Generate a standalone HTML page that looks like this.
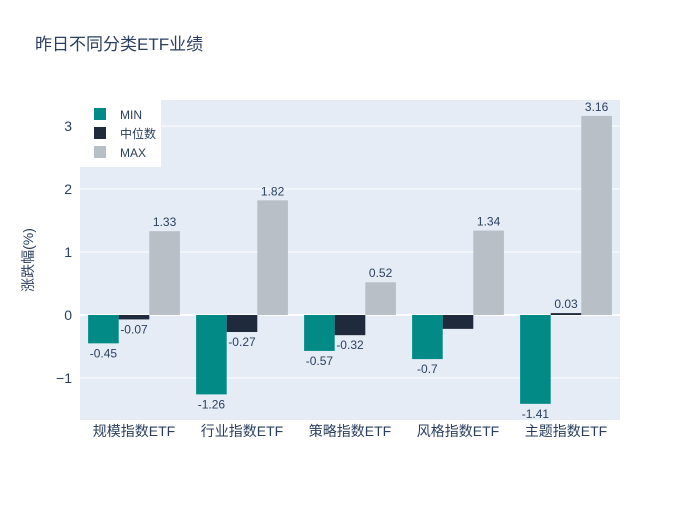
<!DOCTYPE html>
<html><head><meta charset="utf-8"><style>
body{margin:0;background:#fff}
text{font-family:"Liberation Sans","Noto Sans CJK SC",sans-serif;fill:#2a3f5f}
</style></head><body>
<svg id="c" width="700" height="500" xmlns="http://www.w3.org/2000/svg">
<rect x="0" y="0" width="700" height="500" fill="#fff"/>
<text x="35" y="50" font-size="17">昨日不同分类ETF业绩</text>
<rect x="80" y="100" width="540" height="320" fill="#e5ecf6"/>
<g id="grid"></g><g id="bars"></g><g id="labels"></g>
<text transform="translate(33,260) rotate(-90)" text-anchor="middle" font-size="14">涨跌幅(%)</text>
<g>
<rect x="80" y="100" width="81" height="67" fill="#fff"/>
<rect x="94" y="108" width="12" height="12" fill="#028a87"/>
<text x="120" y="119" font-size="12">MIN</text>
<rect x="94" y="127" width="12" height="12" fill="#1f2a3c"/>
<text x="120" y="138" font-size="12">中位数</text>
<rect x="94" y="146" width="12" height="12" fill="#b8bfc6"/>
<text x="120" y="157" font-size="12">MAX</text>
</g>
</svg>
<script>
const categories=["规模指数ETF","行业指数ETF","策略指数ETF","风格指数ETF","主题指数ETF"];
const minVals=[-0.45,-1.26,-0.57,-0.7,-1.41];
const medVals=[-0.07,-0.27,-0.32,-0.22,0.03];
const maxVals=[1.33,1.82,0.52,1.34,3.16];
const yTicks=[-1,0,1,2,3];
const yTickLabels=["−1","0","1","2","3"];
const NS="http://www.w3.org/2000/svg";
const X0=80,W=540,Y0=315,U=63;
const y=v=>Y0-v*U;
const band=W/categories.length;
const cx=i=>X0+band*(i+0.5);
const bw=band*0.85/3;
function mk(t,a,p){const e=document.createElementNS(NS,t);for(const k in a)e.setAttribute(k,a[k]);p.appendChild(e);return e;}
const grid=document.getElementById('grid'),bars=document.getElementById('bars'),labels=document.getElementById('labels'),svg=document.getElementById('c');
yTicks.forEach((t,i)=>{
 const l=mk('line',{x1:X0,x2:X0+W,y1:y(t),y2:y(t),stroke:'#fff','stroke-width':t===0?2:1},grid);
 
 
 const tx=mk('text',{x:X0-8,y:y(t)+5,'text-anchor':'end','font-size':14},svg);
 tx.textContent=yTickLabels[i];
 
 
});
categories.forEach((c,i)=>{
 const tx=mk('text',{x:cx(i),y:436,'text-anchor':'middle','font-size':14},svg);
 tx.textContent=c;
 
 
});
const series=[[minVals,'#028a87','min'],[medVals,'#1f2a3c','median'],[maxVals,'#b8bfc6','max']];
series.forEach(([vals,col,nm],s)=>{
 vals.forEach((v,i)=>{
  const x=cx(i)-1.5*bw+s*bw;
  const top=Math.min(y(v),y(0)),h=Math.abs(y(v)-y(0));
  const r=mk('rect',{x:x,y:top,width:bw,height:Math.max(h,1),fill:col},bars);
  
  
  if(Math.abs(v)<0.25&&v<0&&h<15&&nm==='median'&&v===-0.22)return;
  const t=mk('text',{x:x+bw/2,y:v>=0?top-5:top+h+14,'text-anchor':'middle','font-size':12},labels);
  t.textContent=String(v);
  
  
 });
});
</script>
</body></html>
